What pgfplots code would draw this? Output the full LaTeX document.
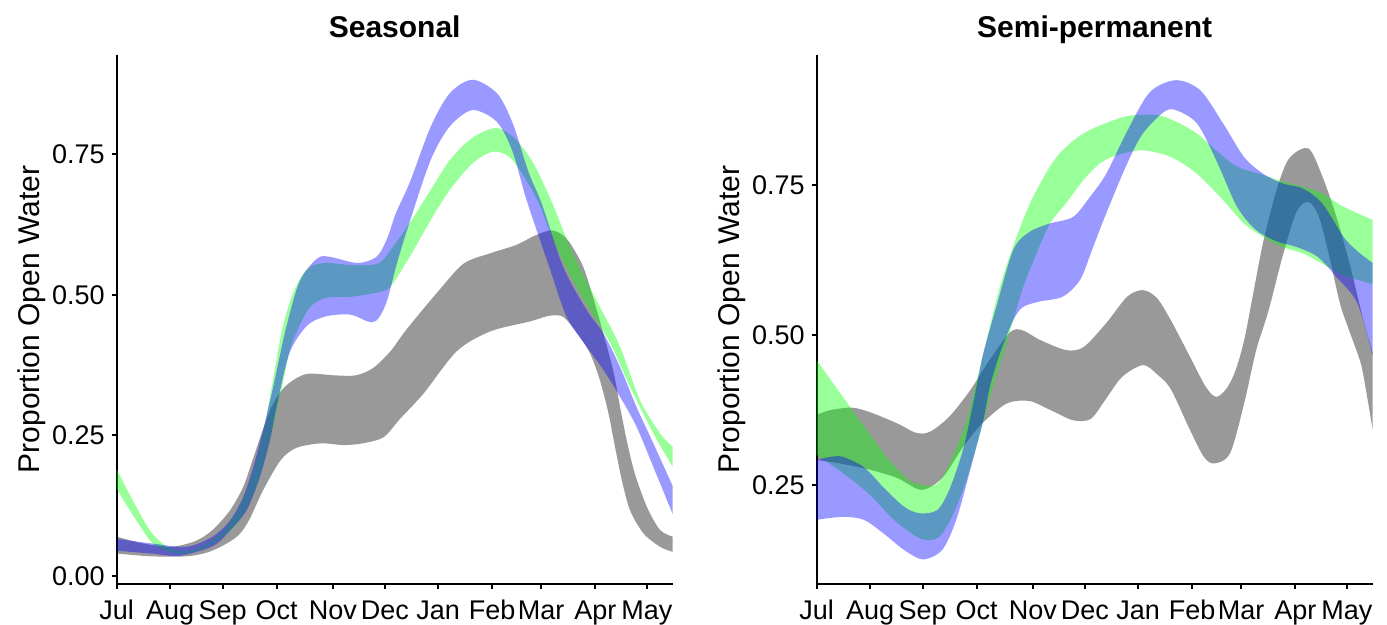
\documentclass[border=0pt]{standalone}
\usepackage{fontspec}
\setmainfont{Liberation Sans}
\usepackage{pgfplots}
\pgfplotsset{compat=1.18}
\usepgfplotslibrary{fillbetween}

\pgfplotsset{
 panel/.style={
  scale only axis, width=278pt, height=264.5pt,
  anchor=south west,
  axis lines*=left,
  axis line style={line width=1pt, black},
  tick style={line width=1pt, black},
  major tick length=2.5pt,
  tick align=outside,
  xmin=0, xmax=318.8,
  xtick={0,30.6,60.8,91.7,123.9,153.8,184.3,215.3,243.4,274.5,304},
  xticklabels={Jul,Aug,Sep,Oct,Nov,Dec,Jan,Feb,Mar,Apr,May},
  ticklabel style={font=\fontsize{13.5}{16}\selectfont},
  xticklabel style={anchor=base, yshift=-15.5pt},
  title style={font=\bfseries\fontsize{15}{18}\selectfont, at={(axis description cs:0.5,1)}, anchor=base, yshift=2.5pt},
  ylabel style={font=\fontsize{15}{18}\selectfont, at={(axis description cs:-0.152,0.5)}, anchor=center},
  ylabel={Proportion Open Water},
 },
 edge/.style={draw=none, smooth},
 band/.style={draw=none, fill opacity=0.4, fill=#1},
}

\begin{document}
\begin{tikzpicture}

% ---------------- Seasonal ----------------
\begin{axis}[panel, at={(58.35pt,20.5pt)}, title={Seasonal},
  ymin=-0.0142, ymax=0.927,
  ytick={0,0.25,0.5,0.75}, yticklabels={0.00,0.25,0.50,0.75}]
\addplot[edge, name path=lgu] coordinates {(0,0.07) (15,0.058) (31,0.052) (45,0.062) (55,0.082) (65,0.117) (72.6,0.159) (78.3,0.21) (84,0.262) (89,0.302) (95,0.332) (102,0.35) (110,0.36) (125,0.357) (137,0.357) (147,0.37) (157,0.40) (166,0.438) (185,0.509) (199,0.556) (214,0.574) (229,0.589) (240,0.606) (249,0.615) (255,0.608) (260,0.592) (267.5,0.55) (273,0.497) (279,0.432) (285,0.361) (288.6,0.301) (292.4,0.242) (297,0.183) (304,0.123) (311.5,0.082) (318.8,0.07)};
\addplot[edge, name path=lgl] coordinates {(0,0.04) (20,0.035) (40,0.035) (52,0.042) (62,0.056) (70,0.073) (76,0.10) (84,0.153) (94,0.206) (103,0.228) (117,0.236) (130,0.233) (141,0.236) (153,0.247) (162,0.278) (176,0.325) (195,0.40) (214,0.435) (237,0.453) (248,0.463) (256,0.461) (264,0.432) (271.4,0.396) (277,0.349) (282,0.289) (285.7,0.23) (289.6,0.171) (294.3,0.117) (302,0.076) (311.5,0.052) (318.8,0.043)};
\addplot[edge, name path=lgru] coordinates {(0,0.19) (10,0.13) (20,0.077) (30,0.05) (40,0.044) (50,0.054) (60,0.077) (70,0.12) (78,0.182) (84,0.255) (88,0.32) (95,0.44) (102,0.51) (110,0.548) (120,0.557) (135,0.553) (150,0.556) (157,0.58) (168,0.628) (180,0.687) (191,0.74) (204,0.78) (218,0.797) (229,0.776) (239,0.734) (249,0.669) (258,0.6) (266,0.545) (277,0.479) (288.6,0.408) (300,0.313) (311.5,0.254) (318.8,0.23)};
\addplot[edge, name path=lgrl] coordinates {(0,0.155) (10,0.105) (20,0.06) (30,0.043) (40,0.04) (50,0.049) (60,0.068) (70,0.098) (80,0.158) (88,0.245) (95,0.34) (100,0.41) (110,0.475) (120,0.495) (135,0.497) (150,0.505) (157,0.515) (168,0.568) (180,0.633) (191,0.687) (204,0.734) (216,0.755) (227,0.74) (241,0.67) (250,0.60) (260,0.535) (270,0.48) (283,0.414) (294.3,0.337) (307.7,0.254) (318.8,0.194)};
\addplot[edge, name path=lbu] coordinates {(0,0.066) (20,0.058) (40,0.052) (55,0.07) (65,0.099) (72.6,0.141) (78.3,0.194) (84,0.26) (87,0.30) (90,0.34) (97,0.44) (105,0.525) (115,0.565) (122,0.568) (138,0.557) (149,0.568) (155,0.60) (160,0.645) (168,0.70) (180,0.799) (191,0.859) (204,0.883) (218,0.859) (227,0.806) (236,0.72) (244,0.66) (256,0.55) (269.5,0.473) (279,0.432) (288.6,0.372) (298,0.301) (307.7,0.236) (318.8,0.16)};
\addplot[edge, name path=lbl] coordinates {(0,0.045) (20,0.04) (36,0.036) (55,0.053) (65,0.081) (74.5,0.117) (82.2,0.177) (87.9,0.242) (91.7,0.301) (99,0.396) (109,0.445) (120,0.462) (134,0.465) (145,0.452) (150,0.458) (155,0.49) (161,0.56) (168,0.63) (180,0.74) (191,0.80) (204,0.829) (218,0.808) (227,0.755) (235,0.669) (248,0.55) (258,0.461) (269.5,0.408) (279,0.367) (288.6,0.319) (298,0.266) (307.7,0.194) (318.8,0.11)};
\addplot[band=black] fill between[of=lgu and lgl];
\addplot[band=green] fill between[of=lgru and lgrl];
\addplot[band=blue] fill between[of=lbu and lbl];
\end{axis}

% ---------------- Semi-permanent ----------------
\begin{axis}[panel, at={(408.35pt,20.5pt)}, title={Semi-permanent},
  ymin=0.085, ymax=0.967,
  ytick={0.25,0.5,0.75}, yticklabels={0.25,0.50,0.75}]
\addplot[edge, name path=rgu] coordinates {(0,0.367) (8,0.375) (20,0.379) (30,0.372) (46,0.353) (57,0.337) (65,0.339) (76,0.364) (88,0.408) (99,0.458) (111,0.505) (118,0.508) (128,0.492) (143,0.475) (153,0.48) (166,0.52) (178,0.564) (187,0.575) (195,0.562) (203,0.525) (214,0.464) (223,0.414) (229,0.397) (235,0.411) (240,0.44) (245,0.49) (250,0.565) (256,0.655) (264,0.745) (271,0.795) (282,0.811) (290,0.764) (298,0.697) (306,0.614) (313,0.53) (318.8,0.47)};
\addplot[edge, name path=rgl] coordinates {(0,0.292) (15,0.285) (30,0.276) (46,0.262) (60,0.242) (72,0.262) (84,0.314) (95,0.353) (109,0.386) (122,0.39) (134,0.375) (147,0.358) (157,0.36) (165,0.39) (175,0.43) (187,0.45) (195,0.435) (203,0.41) (214,0.342) (222,0.297) (228,0.286) (237,0.303) (245,0.385) (252,0.475) (259,0.54) (267,0.63) (275,0.705) (282,0.722) (288,0.697) (294,0.63) (300,0.553) (305,0.51) (310,0.47) (313,0.44) (318.8,0.342)};
\addplot[edge, name path=rgru] coordinates {(0,0.458) (15,0.397) (30,0.336) (42,0.29) (53,0.258) (61,0.25) (69,0.252) (76,0.285) (86,0.358) (95.5,0.469) (105,0.58) (114.6,0.664) (124,0.73) (137.5,0.797) (152.8,0.836) (170,0.858) (180,0.866) (195,0.867) (206,0.856) (218,0.836) (229,0.808) (241,0.781) (256,0.767) (267,0.756) (279,0.747) (290,0.736) (302,0.714) (318.8,0.692)};
\addplot[edge, name path=rgrl] coordinates {(0,0.30) (15,0.27) (30,0.235) (45,0.19) (60,0.16) (70,0.163) (78,0.20) (86,0.26) (94,0.34) (101,0.414) (107,0.469) (112.7,0.525) (118.4,0.58) (126,0.636) (133.7,0.686) (143,0.72) (152.8,0.758) (162.3,0.786) (172,0.80) (187,0.808) (203,0.797) (218,0.769) (233,0.725) (245,0.686) (256,0.664) (267,0.647) (279,0.636) (290,0.619) (302,0.60) (318.8,0.585)};
\addplot[edge, name path=rbu] coordinates {(0,0.292) (8,0.297) (15,0.297) (27,0.28) (38,0.247) (50,0.214) (59,0.203) (69,0.208) (76,0.242) (84,0.31) (89.7,0.386) (95.5,0.469) (103,0.547) (112.7,0.642) (122,0.672) (133.7,0.686) (147,0.697) (156.6,0.73) (166,0.769) (178,0.84) (191,0.905) (206,0.925) (220,0.908) (233,0.853) (245,0.797) (256,0.769) (267,0.753) (279,0.744) (290,0.719) (302,0.664) (310,0.64) (318.8,0.62)};
\addplot[edge, name path=rbl] coordinates {(0,0.192) (15,0.197) (27,0.192) (38,0.17) (50,0.142) (61,0.126) (72,0.142) (80,0.192) (88,0.275) (95.5,0.358) (99.3,0.414) (105,0.469) (112.7,0.525) (118.4,0.547) (128,0.556) (141,0.564) (151,0.592) (158.5,0.647) (166,0.703) (178,0.786) (187,0.836) (199,0.872) (206,0.875) (218,0.853) (229,0.792) (241,0.714) (252,0.675) (264,0.656) (275,0.647) (287,0.631) (298,0.597) (310,0.553) (318.8,0.465)};
\addplot[band=black] fill between[of=rgu and rgl];
\addplot[band=green] fill between[of=rgru and rgrl];
\addplot[band=blue] fill between[of=rbu and rbl];
\end{axis}
\pgfresetboundingbox
\path[use as bounding box] (0,0) rectangle (693.5pt,312.5pt);
\end{tikzpicture}
\end{document}
